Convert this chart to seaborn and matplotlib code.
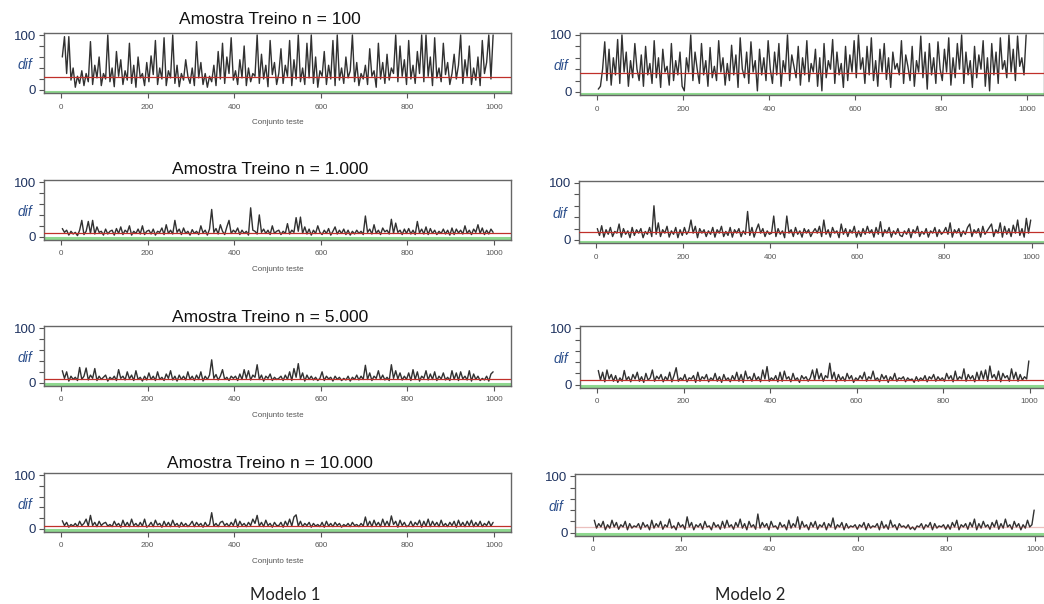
import numpy as np
import pandas as pd
import matplotlib
matplotlib.use("Agg")
import matplotlib.pyplot as plt
import matplotlib.transforms as mtransforms
import seaborn as sns

# ---------------- data ----------------
x_index = list(range(3, 1000, 5))  # test-set positions (sampled, 200 per panel)

titles = ["Amostra Treino n = 100", "Amostra Treino n = 1.000",
          "Amostra Treino n = 5.000", "Amostra Treino n = 10.000"]
model_labels = ["Modelo 1", "Modelo 2"]
xlabel = "Conjunto teste"
x_ticks = [0, 200, 400, 600, 800, 1000]
y_ticks = [0, 20, 40, 60, 80, 100]
y_ticklabels = ["0", "", "", "", "", "100"]
y_name = "dif"

m1_n100 = [60, 97, 30, 97, 18, 40, 5, 25, 12, 35, 8, 30, 15, 88, 10, 45, 22, 60, 8, 30,
           20, 100, 15, 40, 6, 70, 25, 55, 10, 35, 18, 85, 12, 45, 5, 60, 22, 30, 8, 50,
           15, 62, 28, 90, 10, 40, 20, 95, 8, 35, 22, 100, 12, 45, 6, 30, 18, 55, 25, 12,
           40, 8, 88, 22, 50, 10, 30, 5, 25, 15, 45, 8, 70, 20, 85, 12, 60, 30, 95, 18,
           35, 10, 55, 22, 80, 8, 40, 15, 30, 25, 100, 12, 65, 20, 45, 6, 90, 28, 50, 10,
           30, 75, 12, 45, 25, 90, 8, 55, 20, 100, 15, 40, 10, 85, 22, 100, 12, 60, 5, 35,
           25, 70, 10, 45, 20, 90, 8, 100, 18, 40, 12, 60, 22, 35, 100, 15, 50, 8, 30, 20,
           45, 10, 75, 25, 35, 5, 85, 20, 50, 12, 65, 18, 40, 30, 100, 15, 80, 25, 55, 10,
           90, 20, 45, 12, 70, 30, 100, 15, 100, 25, 60, 8, 95, 22, 40, 15, 85, 28, 50, 10,
           30, 65, 20, 45, 100, 12, 55, 25, 80, 10, 40, 18, 60, 8, 90, 30, 50, 100, 20, 100]
m1_n1000 = [15, 8, 12, 3, 10, 5, 8, 2, 12, 30, 4, 10, 28, 6, 30, 5, 18, 8, 10, 3,
            14, 5, 10, 12, 3, 15, 6, 18, 4, 12, 8, 20, 3, 10, 6, 14, 5, 20, 4, 10,
            12, 5, 14, 3, 10, 8, 16, 4, 22, 6, 12, 5, 30, 8, 14, 4, 16, 6, 10, 3,
            13, 6, 10, 4, 20, 7, 12, 3, 14, 50, 8, 15, 5, 22, 10, 4, 18, 30, 6, 12,
            8, 16, 4, 12, 6, 10, 3, 53, 12, 10, 5, 40, 8, 14, 6, 12, 4, 20, 6, 10,
            12, 4, 10, 6, 24, 5, 12, 8, 35, 10, 36, 6, 18, 5, 14, 3, 12, 6, 20, 8,
            4, 12, 6, 15, 3, 10, 18, 5, 12, 6, 14, 4, 12, 3, 10, 5, 12, 6, 10, 4,
            38, 8, 14, 5, 22, 6, 12, 4, 16, 9, 12, 5, 32, 6, 25, 8, 12, 4, 14, 6,
            15, 5, 12, 4, 28, 7, 14, 5, 18, 4, 15, 6, 12, 4, 10, 6, 14, 5, 12, 3,
            16, 4, 14, 7, 12, 5, 20, 6, 12, 4, 14, 8, 22, 6, 16, 4, 12, 5, 14, 8]
m1_n5000 = [22, 8, 20, 3, 12, 6, 10, 4, 28, 6, 12, 27, 5, 14, 8, 26, 4, 12, 6, 10,
            14, 3, 10, 6, 12, 4, 24, 8, 12, 5, 20, 7, 14, 4, 22, 6, 10, 3, 12, 5,
            18, 6, 12, 4, 20, 6, 10, 4, 16, 8, 22, 5, 12, 3, 14, 6, 12, 5, 20, 6,
            12, 4, 14, 6, 20, 3, 12, 6, 14, 42, 8, 15, 5, 12, 24, 6, 10, 4, 12, 8,
            12, 4, 16, 6, 24, 8, 22, 5, 14, 10, 33, 6, 14, 3, 12, 8, 16, 4, 10, 6,
            8, 12, 4, 14, 6, 20, 4, 26, 10, 35, 7, 18, 3, 14, 6, 12, 5, 10, 4, 8,
            20, 4, 12, 7, 10, 3, 12, 6, 10, 4, 8, 5, 12, 3, 10, 6, 14, 5, 12, 6,
            32, 6, 18, 4, 12, 8, 22, 6, 14, 5, 10, 4, 33, 8, 22, 7, 18, 5, 12, 6,
            18, 4, 24, 6, 20, 3, 12, 8, 22, 5, 16, 6, 20, 4, 12, 7, 18, 5, 10, 4,
            22, 6, 18, 4, 20, 7, 12, 5, 22, 3, 16, 6, 12, 4, 8, 5, 12, 3, 16, 20]
m1_n10000 = [15, 6, 12, 3, 8, 5, 10, 4, 14, 6, 10, 18, 5, 25, 6, 12, 4, 14, 6, 10,
             12, 5, 8, 4, 14, 6, 10, 3, 16, 5, 12, 4, 18, 6, 10, 4, 12, 5, 18, 3,
             6, 12, 4, 16, 7, 10, 3, 14, 5, 12, 4, 16, 6, 10, 3, 12, 5, 10, 4, 8,
             14, 4, 12, 6, 10, 3, 12, 5, 8, 30, 5, 10, 4, 12, 14, 6, 10, 4, 12, 6,
             18, 3, 14, 6, 10, 4, 12, 6, 18, 10, 25, 5, 12, 4, 16, 6, 10, 3, 12, 6,
             6, 12, 3, 14, 6, 18, 5, 22, 26, 5, 14, 4, 10, 6, 12, 3, 10, 5, 8, 4,
             12, 3, 14, 5, 10, 4, 12, 6, 10, 3, 8, 5, 10, 4, 12, 6, 8, 4, 10, 5,
             22, 5, 14, 4, 16, 6, 12, 4, 18, 6, 14, 5, 24, 8, 14, 3, 16, 6, 12, 4,
             6, 14, 4, 12, 7, 16, 3, 14, 5, 18, 4, 14, 6, 12, 4, 16, 5, 10, 4, 12,
             6, 14, 3, 16, 5, 12, 4, 14, 6, 16, 4, 12, 5, 14, 4, 10, 6, 14, 5, 12]

m2_n100 = [5, 10, 40, 88, 20, 75, 12, 60, 30, 92, 15, 100, 35, 70, 10, 55, 25, 85, 40, 20,
           65, 10, 80, 30, 50, 15, 90, 25, 60, 8, 75, 35, 45, 12, 85, 20, 55, 30, 70, 10,
           2, 60, 35, 100, 20, 70, 40, 15, 85, 30, 55, 10, 78, 25, 45, 20, 90, 35, 60, 12,
           50, 20, 82, 30, 65, 8, 95, 40, 25, 70, 15, 88, 35, 55, 2, 75, 30, 60, 20, 90,
           40, 15, 70, 30, 85, 10, 55, 35, 100, 20, 65, 45, 25, 80, 12, 60, 30, 90, 18, 50,
           35, 75, 10, 60, 2, 85, 25, 55, 40, 92, 15, 70, 30, 50, 8, 80, 20, 65, 35, 90,
           25, 100, 40, 60, 15, 80, 30, 95, 20, 55, 10, 75, 35, 85, 22, 60, 8, 70, 40, 50,
           30, 90, 15, 65, 45, 20, 80, 10, 55, 35, 98, 25, 70, 5, 85, 30, 60, 15, 88, 40,
           20, 75, 35, 95, 12, 60, 25, 85, 40, 100, 15, 70, 30, 55, 8, 80, 25, 65, 40, 90,
           10, 60, 2, 85, 30, 70, 15, 95, 40, 55, 25, 100, 35, 75, 20, 98, 45, 60, 30, 100]
m2_n1000 = [20, 8, 25, 5, 18, 10, 22, 6, 15, 12, 28, 5, 20, 10, 16, 4, 22, 8, 18, 12,
            20, 4, 15, 10, 22, 6, 60, 10, 30, 6, 18, 12, 24, 5, 16, 10, 22, 4, 18, 8,
            22, 10, 16, 35, 12, 24, 4, 20, 12, 18, 6, 16, 10, 22, 5, 18, 12, 24, 6, 15,
            8, 22, 5, 18, 12, 20, 6, 16, 10, 50, 8, 22, 5, 18, 28, 12, 20, 6, 16, 10,
            12, 42, 6, 20, 10, 16, 4, 42, 12, 18, 6, 22, 10, 16, 5, 20, 12, 18, 6, 14,
            20, 12, 24, 6, 35, 10, 18, 5, 22, 12, 16, 4, 28, 10, 20, 6, 18, 12, 24, 5,
            16, 6, 20, 10, 24, 12, 18, 5, 22, 10, 32, 6, 18, 12, 22, 5, 16, 10, 20, 8,
            6, 16, 10, 20, 4, 18, 12, 24, 6, 15, 10, 20, 5, 16, 12, 22, 6, 18, 10, 14,
            22, 10, 30, 5, 18, 12, 20, 6, 16, 10, 22, 28, 6, 18, 12, 20, 5, 24, 10, 16,
            22, 28, 6, 18, 12, 30, 5, 24, 10, 20, 6, 26, 12, 35, 8, 20, 5, 38, 12, 35]
m2_n5000 = [25, 8, 22, 5, 26, 10, 18, 6, 16, 4, 12, 6, 25, 8, 14, 5, 18, 10, 22, 6,
            14, 4, 20, 8, 12, 26, 6, 15, 10, 18, 5, 14, 8, 22, 5, 16, 30, 6, 12, 8,
            18, 5, 12, 10, 16, 4, 22, 6, 14, 10, 18, 5, 12, 8, 20, 6, 14, 4, 18, 8,
            12, 5, 16, 8, 22, 6, 18, 4, 24, 10, 14, 6, 20, 8, 14, 5, 26, 10, 32, 6,
            12, 8, 16, 5, 22, 6, 24, 10, 14, 5, 20, 8, 12, 4, 16, 10, 14, 6, 12, 26,
            8, 28, 10, 20, 6, 16, 12, 38, 10, 22, 5, 18, 8, 14, 6, 20, 10, 16, 4, 12,
            8, 16, 10, 22, 6, 14, 10, 24, 8, 12, 5, 18, 10, 16, 4, 14, 8, 20, 6, 12,
            10, 14, 5, 12, 8, 10, 4, 14, 6, 12, 8, 16, 5, 14, 10, 18, 6, 14, 8, 12,
            6, 20, 10, 16, 5, 24, 8, 14, 10, 28, 6, 18, 10, 16, 5, 22, 8, 24, 10, 26,
            6, 33, 12, 18, 8, 24, 5, 20, 12, 16, 6, 28, 10, 22, 6, 18, 8, 14, 10, 42]
m2_n10000 = [22, 8, 16, 10, 20, 5, 14, 8, 22, 10, 18, 6, 14, 10, 20, 5, 16, 8, 12, 10,
             16, 6, 18, 10, 14, 5, 22, 8, 16, 10, 20, 6, 14, 10, 24, 8, 12, 5, 18, 10,
             14, 6, 28, 10, 18, 5, 14, 10, 16, 6, 20, 10, 12, 5, 18, 10, 14, 6, 20, 8,
             22, 10, 14, 6, 18, 10, 24, 8, 16, 5, 20, 10, 14, 6, 33, 8, 18, 10, 16, 5,
             20, 10, 12, 6, 18, 10, 14, 5, 22, 8, 16, 10, 28, 6, 20, 10, 14, 5, 18, 10,
             20, 6, 14, 10, 18, 5, 16, 10, 26, 6, 14, 10, 18, 5, 16, 8, 12, 10, 14, 6,
             14, 10, 18, 5, 16, 8, 12, 10, 16, 5, 20, 8, 14, 6, 22, 10, 14, 5, 16, 10,
             12, 8, 14, 6, 10, 5, 12, 10, 16, 6, 14, 10, 18, 5, 16, 8, 12, 10, 14, 6,
             14, 6, 18, 10, 22, 5, 14, 10, 16, 6, 18, 10, 24, 5, 16, 8, 20, 10, 14, 6,
             18, 10, 22, 6, 16, 8, 24, 10, 14, 6, 20, 10, 16, 5, 14, 8, 22, 10, 14, 40]

m1_means = [24, 7, 7, 5]
m2_means = [34, 14, 9, 10]

# ---------------- layout (pixel boxes: left, top, right, bottom) ----------------
W, H = 1044, 604
left_boxes = [(43.7, 32.8, 511.3, 93.3), (43.7, 180.0, 511.3, 240.0),
              (43.7, 326.0, 511.3, 386.0), (43.7, 473.0, 511.3, 532.0)]
right_boxes = [(579.8, 32.7, 1044.2, 95.4), (578.6, 180.7, 1049.0, 243.4),
               (579.7, 326.0, 1047.0, 388.0), (575.3, 474.0, 1052.7, 536.0)]
title_y = [20, 170, 317, 463]
red_alpha_right = [1.0, 1.0, 1.0, 0.3]

sns.set_style("white")
plt.rcParams["font.family"] = ["Liberation Sans", "DejaVu Sans"]

fig = plt.figure(figsize=(W / 100, H / 100), dpi=100)


def rect(l, t, r, b):
    return [l / W, 1 - b / H, (r - l) / W, (b - t) / H]


def draw_panel(box, values, mean, show_xlabel, red_alpha=1.0):
    ax = fig.add_axes(rect(*box))
    df = pd.DataFrame({"x": x_index, "y": values})
    sns.lineplot(data=df, x="x", y="y", ax=ax, color="#0d0d0d", lw=1.0,
                 alpha=0.85, zorder=3)
    ax.axhline(mean, color="#c0302a", lw=0.9, alpha=red_alpha, zorder=4)
    ax.axhline(-3.2, color="#8fd88f", lw=2.2, zorder=2)
    ax.set_xlim(-40, 1040)
    ax.set_ylim(-6, 104)
    ax.set_xticks(x_ticks)
    ax.set_xticklabels([str(v) for v in x_ticks], fontsize=5.8, color="#555555")
    ax.set_yticks(y_ticks)
    ax.set_yticklabels(y_ticklabels, fontsize=9.5, color="#1f3360")
    ax.tick_params(axis="both", direction="out", length=3.5, width=0.8,
                   color="#555555", left=True, bottom=True, pad=2)
    ax.tick_params(axis="x", pad=4)
    for s in ax.spines.values():
        s.set_color("#666666")
        s.set_linewidth(1.0)
    ax.set_xlabel(xlabel if show_xlabel else "", fontsize=5.8, color="#555555",
                  labelpad=6)
    ax.set_ylabel("")
    trans = mtransforms.blended_transform_factory(ax.transAxes, ax.transData)
    ax.text(-0.04, 45, y_name, transform=trans, ha="center", va="center",
            fontsize=10, style="italic", color="#2c4f8c")
    return ax


left_series = [m1_n100, m1_n1000, m1_n5000, m1_n10000]
right_series = [m2_n100, m2_n1000, m2_n5000, m2_n10000]

for i in range(4):
    draw_panel(left_boxes[i], left_series[i], m1_means[i], True)
    draw_panel(right_boxes[i], right_series[i], m2_means[i], False,
               red_alpha_right[i])
    fig.text(270 / W, 1 - title_y[i] / H, titles[i], ha="center", va="center",
             fontsize=12.5, color="#111111")

fig.text(285 / W, 1 - 595 / H, model_labels[0], ha="center", va="center",
         fontsize=12, family=["Lato", "DejaVu Sans"], color="#222222")
fig.text(750 / W, 1 - 595 / H, model_labels[1], ha="center", va="center",
         fontsize=12, family=["Lato", "DejaVu Sans"], color="#222222")

fig.savefig("out.png", dpi=100, facecolor="white")
